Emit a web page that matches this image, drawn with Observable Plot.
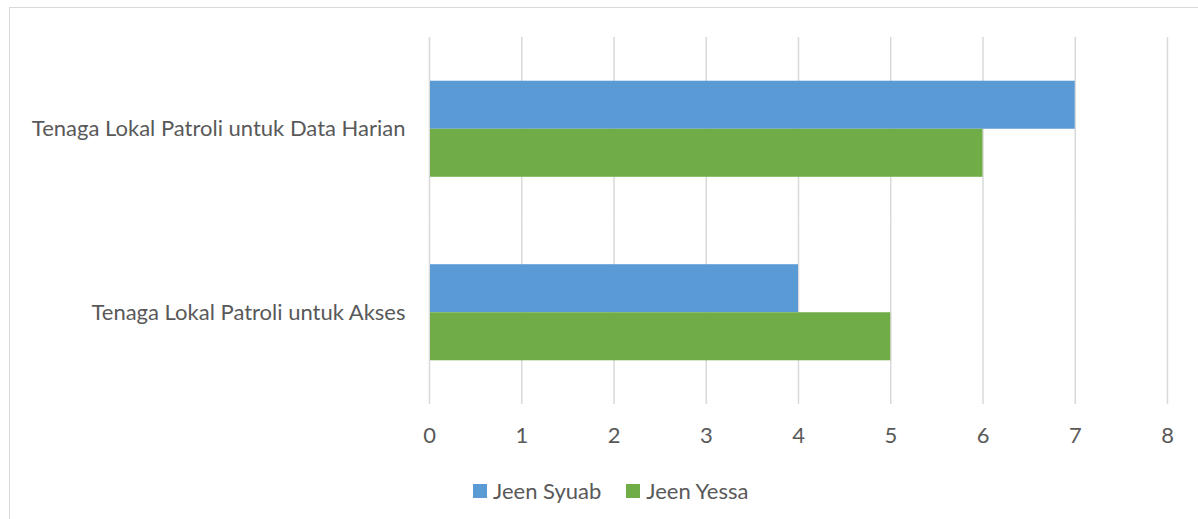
<!DOCTYPE html>
<html>
<head>
<meta charset="utf-8">
<script src="https://cdn.jsdelivr.net/npm/d3@7"></script>
<script src="https://cdn.jsdelivr.net/npm/@observablehq/plot@0.6"></script>
<style>
  html, body { margin: 0; padding: 0; background: #fff; overflow: hidden; width: 1198px; height: 519px; }
  #wrap { position: relative; width: 1198px; height: 519px; }
  #frame { position: absolute; left: 9px; top: 7px; width: 1300px; height: 600px; border: 1px solid #d9d9d9; box-sizing: border-box; }
  #chart { position: absolute; left: 0; top: 0; }
  #legend { position: absolute; left: 473px; top: 477px; display: flex; align-items: center; font-family: Lato, "Open Sans", sans-serif; font-size: 22px; color: #595959; }
  .item { display: flex; align-items: center; margin-right: 25px; }
  .sw { width: 14px; height: 14px; margin-right: 6px; }
</style>
</head>
<body>
<div id="wrap">
  <div id="frame"></div>
  <div id="chart"></div>
  <div id="legend"></div>
</div>
<script>
const categories = ["Tenaga Lokal Patroli untuk Data Harian", "Tenaga Lokal Patroli untuk Akses"];
const seriesNames = ["Jeen Syuab", "Jeen Yessa"];
const syuabValues = [7, 4];
const yessaValues = [6, 5];
const seriesColors = ["#5b9bd5", "#70ad47"];
const xTicks = [0, 1, 2, 3, 4, 5, 6, 7, 8];

const data = categories.flatMap((c, i) => [
  {cat: c, series: seriesNames[0], value: syuabValues[i]},
  {cat: c, series: seriesNames[1], value: yessaValues[i]}
]);

const chart = Plot.plot({
  width: 1198,
  height: 460,
  marginLeft: 429,
  marginRight: 31,
  marginTop: 37,
  marginBottom: 56,
  style: {fontFamily: "Lato, 'Open Sans', sans-serif", fontSize: "22px", color: "#595959", background: "transparent"},
  x: {domain: [0, 8]},
  fy: {domain: categories, padding: 0, round: false},
  y: {domain: seriesNames, paddingInner: 0, paddingOuter: 0.91, round: false, axis: null},
  color: {domain: seriesNames, range: seriesColors},
  marks: [
    Plot.ruleX(xTicks, {x: d => d, stroke: "#d9d9d9", strokeWidth: 1.5}),
    Plot.barX(data, {x: "value", y: "series", fy: "cat", fill: "series", insetLeft: 1}),
    Plot.axisX({ticks: xTicks, tickSize: 0, tickPadding: 23, label: null, fontSize: 22}),
    Plot.axisFy({anchor: "left", tickSize: 0, tickPadding: 24, label: null, fontSize: 22})
  ]
});
document.getElementById("chart").appendChild(chart);

const legend = document.getElementById("legend");
seriesNames.forEach((name, i) => {
  const item = document.createElement("div");
  item.className = "item";
  const sw = document.createElement("div");
  sw.className = "sw";
  sw.style.background = seriesColors[i];
  const label = document.createElement("span");
  label.textContent = name;
  item.appendChild(sw);
  item.appendChild(label);
  legend.appendChild(item);
});
</script>
</body>
</html>
